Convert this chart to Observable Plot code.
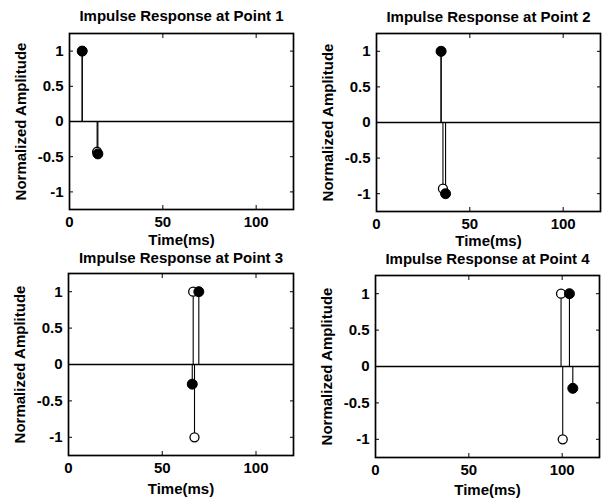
<!DOCTYPE html>
<html>
<head>
<meta charset="utf-8">
<script src="https://cdn.jsdelivr.net/npm/d3@7"></script>
<script src="https://cdn.jsdelivr.net/npm/@observablehq/plot@0.6"></script>
<style>
  body { margin: 0; background: white; }
  #chart { position: relative; width: 608px; height: 499px; background: white; overflow: hidden; }
  #chart > div { position: absolute; }
  svg { overflow: visible; }
</style>
</head>
<body>
<div id="chart"></div>
<script>
// ---- data ----
const titles = [
  "Impulse Response at Point 1",
  "Impulse Response at Point 2",
  "Impulse Response at Point 3",
  "Impulse Response at Point 4"
];
const xLabel = "Time(ms)";
const yLabel = "Normalized Amplitude";
const xTicks = [0, 50, 100];
const yTicks = [-1, -0.5, 0, 0.5, 1];

// open-circle series (time in ms, normalized amplitude)
const openTime = [[6.8, 14.8], [34.6, 35.6], [66.5, 67.2], [99.4, 100.3]];
const openAmp  = [[1, -0.43], [1, -0.93], [1, -1], [1, -1]];
// filled-circle series
const filledTime = [[6.8, 15.2], [34.6, 37.0], [69.5, 66.0], [103.9, 105.7]];
const filledAmp  = [[1, -0.46], [1, -1], [1, -0.27], [1, -0.3]];

// ---- layout ----
const layouts = [
  {left: 0,   top: 0,   height: 250, mL: 69, mR: 11, mT: 33, mB: 41, titleDy: -17, xlabDy: 31},
  {left: 304, top: 0,   height: 250, mL: 72, mR: 8,  mT: 33, mB: 39, titleDy: -16, xlabDy: 30},
  {left: 0,   top: 245, height: 254, mL: 68, mR: 11, mT: 28, mB: 44, titleDy: -15, xlabDy: 34},
  {left: 304, top: 245, height: 254, mL: 71, mR: 9,  mT: 30, mB: 42, titleDy: -16, xlabDy: 33}
];

const font = "'Liberation Sans', Arial, Helvetica, sans-serif";
const chart = document.getElementById("chart");

titles.forEach((title, i) => {
  const L = layouts[i];
  const open = openTime[i].map((t, j) => ({t, a: openAmp[i][j]}));
  const filled = filledTime[i].map((t, j) => ({t, a: filledAmp[i][j]}));
  const svg = Plot.plot({
    width: 304,
    height: L.height,
    marginLeft: L.mL,
    marginRight: L.mR,
    marginTop: L.mT,
    marginBottom: L.mB,
    style: {fontFamily: font, fontSize: "15px", fontWeight: "bold", color: "black", background: "none"},
    x: {domain: [0, 120]},
    y: {domain: [-1.25, 1.25]},
    marks: [
      Plot.ruleY([0], {stroke: "black", strokeWidth: 1.7}),
      Plot.ruleX(open, {x: "t", y1: 0, y2: "a", stroke: "black", strokeWidth: 1.1}),
      Plot.ruleX(filled, {x: "t", y1: 0, y2: "a", stroke: "black", strokeWidth: 1.1}),
      Plot.dot(open, {x: "t", y: "a", r: 4.5, fill: "white", stroke: "black", strokeWidth: 1.3}),
      Plot.dot(filled, {x: "t", y: "a", r: 5, fill: "black", stroke: "black", strokeWidth: 1}),
      Plot.axisX(xTicks, {anchor: "bottom", tickSize: 0, tickPadding: 7, label: null}),
      Plot.axisX(xTicks, {anchor: "bottom", tickSize: -4, tickFormat: () => "", label: null}),
      Plot.axisX(xTicks, {anchor: "top", tickSize: -4, tickFormat: () => "", label: null}),
      Plot.axisY(yTicks, {anchor: "left", tickSize: 0, tickPadding: 6, label: null, tickFormat: d => String(d)}),
      Plot.axisY(yTicks, {anchor: "left", tickSize: -4, tickFormat: () => "", label: null}),
      Plot.axisY(yTicks, {anchor: "right", tickSize: -4, tickFormat: () => "", label: null}),
      Plot.frame({stroke: "black", strokeWidth: 1.7}),
      Plot.text([title], {frameAnchor: "top", dy: L.titleDy, text: d => d, lineAnchor: "middle", textAnchor: "middle"}),
      Plot.text([xLabel], {frameAnchor: "bottom", dy: L.xlabDy, text: d => d, lineAnchor: "middle", textAnchor: "middle"}),
      Plot.text([yLabel], {frameAnchor: "left", dx: -48, text: d => d, rotate: -90, lineAnchor: "middle", textAnchor: "middle"})
    ]
  });
  const holder = document.createElement("div");
  holder.style.left = L.left + "px";
  holder.style.top = L.top + "px";
  holder.appendChild(svg);
  chart.appendChild(holder);
});
</script>
</body>
</html>
